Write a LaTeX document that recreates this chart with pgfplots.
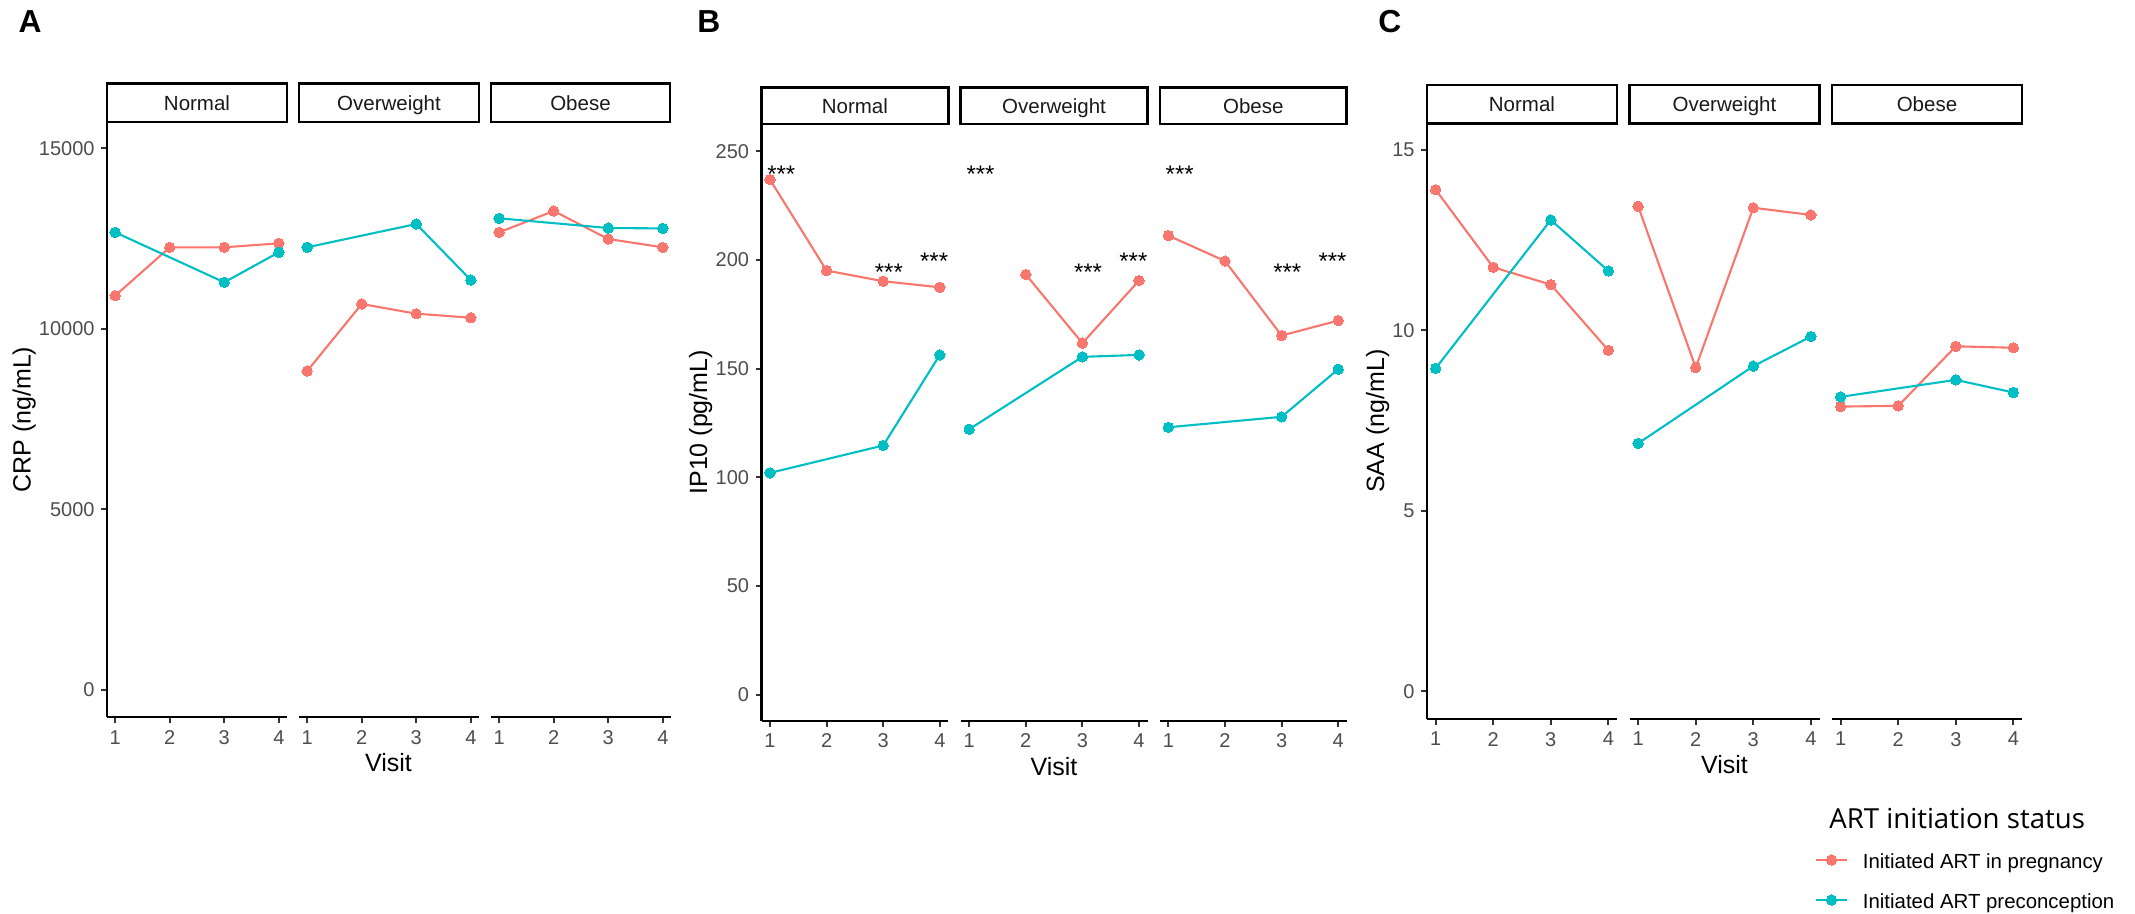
\documentclass[border=0pt]{standalone}
\usepackage{fontspec}
\setmainfont{Liberation Sans}
\newfontfamily\titlefont{Open Sans}
\usepackage{pgfplots}
\pgfplotsset{compat=1.18}
\definecolor{gred}{HTML}{F8766D}
\definecolor{gcyan}{HTML}{00BFC4}
\definecolor{tickgrey}{HTML}{4D4D4D}
\definecolor{tickmark}{HTML}{333333}
\definecolor{stripgrey}{HTML}{1A1A1A}
\newcommand\ticksize{\fontsize{10bp}{12bp}\selectfont}
\newcommand\stripfont{\fontsize{10.25bp}{12bp}\selectfont}
\newcommand\axtitle{\fontsize{12.5bp}{15bp}\selectfont}
\newcommand\legfont{\fontsize{10.2bp}{12bp}\selectfont}
\newcommand\astfont{\fontsize{12bp}{14bp}\selectfont}
\newcommand\strip[5]{%
  \draw[line width=1.35bp, black] ({#1*0.5bp},{-#3*0.5bp}) rectangle ({#2*0.5bp},{-#4*0.5bp});
  \node[anchor=base, inner sep=0pt, font=\stripfont, text=stripgrey] at ({(#1+#2)*0.25bp},{-(#3+#4)*0.25bp-3.7bp}) {#5};}
\tikzset{ast/.style={anchor=base, inner sep=0pt, font=\astfont, text=black}}
\pgfplotsset{
  facet/.style={
    scale only axis, clip=false,
    xmin=0.85, xmax=4.15,
    xtick={1,2,3,4}, xticklabels={1,2,3,4},
    scaled x ticks=false, scaled y ticks=false,
    axis x line*=bottom,
    axis line style={-, line width=1.15bp, black},
    tick align=outside,
    major tick length=3bp,
    major tick style={line width=1bp, tickmark},
    tick label style={font=\ticksize, text=tickgrey, inner sep=0pt},
    xticklabel shift=3.35bp,
    yticklabel shift=3bp,
  },
  ylead/.style={axis y line*=left},
  yoff/.style={axis y line=none},
  pr/.style={color=gred, line width=1.05bp, mark=*, mark size=2.6bp, mark options={solid, fill=gred, draw=gred, line width=0pt}},
  pc/.style={color=gcyan, line width=1.05bp, mark=*, mark size=2.6bp, mark options={solid, fill=gcyan, draw=gcyan, line width=0pt}},
  Ay/.style={ymin=-770, ymax=15729, ytick={0,5000,10000,15000}, yticklabels={0,5000,10000,15000}, width=90bp, height=297.65bp},
  By/.style={ymin=-12.05, ymax=262.56, ytick={0,50,100,150,200,250}, yticklabels={0,50,100,150,200,250}, width=93.4bp, height=298.35bp},
  Cy/.style={ymin=-0.768, ymax=15.74, ytick={0,5,10,15}, yticklabels={0,5,10,15}, width=95bp, height=297.85bp},
}
\begin{document}
\begin{tikzpicture}
\useasboundingbox (0,0) rectangle (1067.5bp,-457bp);

% ---------------- Panel A : CRP ----------------
\begin{axis}[facet, ylead, Ay, at={(53.5bp,-358.65bp)}, anchor=south west]
\addplot[pr] coordinates {(1,10915) (2,12256) (3,12256) (4,12367)};
\addplot[pc] coordinates {(1,12672) (3,11286) (4,12118)};
\end{axis}
\begin{axis}[facet, yoff, Ay, at={(149.5bp,-358.65bp)}, anchor=south west]
\addplot[pr] coordinates {(1,8828) (2,10685) (3,10416) (4,10305)};
\addplot[pc] coordinates {(1,12256) (3,12902) (4,11350)};
\end{axis}
\begin{axis}[facet, yoff, Ay, at={(245.5bp,-358.65bp)}, anchor=south west]
\addplot[pr] coordinates {(1,12672) (2,13262) (3,12486) (4,12256)};
\addplot[pc] coordinates {(1,13060) (3,12791) (4,12780)};
\end{axis}

% ---------------- Panel B : IP10 ----------------
\begin{axis}[facet, ylead, By, at={(380.75bp,-360.35bp)}, anchor=south west]
\addplot[pr] coordinates {(1,237.0) (2,195.1) (3,190.2) (4,187.4)};
\addplot[pc] coordinates {(1,102.0) (3,114.6) (4,156.3)};
\node[ast] at (axis cs:1.2,235.5) {***};
\node[ast] at (axis cs:3.1,190.7) {***};
\node[ast] at (axis cs:3.9,195.6) {***};
\end{axis}
\begin{axis}[facet, yoff, By, at={(480.35bp,-360.35bp)}, anchor=south west]
\addplot[pr] coordinates {(2,193.3) (3,161.7) (4,190.5)};
\addplot[pc] coordinates {(1,122.1) (3,155.4) (4,156.3)};
\node[ast] at (axis cs:1.2,235.5) {***};
\node[ast] at (axis cs:3.1,190.7) {***};
\node[ast] at (axis cs:3.9,195.6) {***};
\end{axis}
\begin{axis}[facet, yoff, By, at={(579.95bp,-360.35bp)}, anchor=south west]
\addplot[pr] coordinates {(1,211.2) (2,199.5) (3,165.2) (4,172.1)};
\addplot[pc] coordinates {(1,123.0) (3,127.8) (4,149.7)};
\node[ast] at (axis cs:1.2,235.5) {***};
\node[ast] at (axis cs:3.1,190.7) {***};
\node[ast] at (axis cs:3.9,195.6) {***};
\end{axis}

% ---------------- Panel C : SAA ----------------
\begin{axis}[facet, ylead, Cy, at={(713.5bp,-359.5bp)}, anchor=south west]
\addplot[pr] coordinates {(1,13.90) (2,11.75) (3,11.27) (4,9.45)};
\addplot[pc] coordinates {(1,8.95) (3,13.06) (4,11.65)};
\end{axis}
\begin{axis}[facet, yoff, Cy, at={(814.75bp,-359.5bp)}, anchor=south west]
\addplot[pr] coordinates {(1,13.44) (2,8.97) (3,13.40) (4,13.20)};
\addplot[pc] coordinates {(1,6.87) (3,9.01) (4,9.83)};
\end{axis}
\begin{axis}[facet, yoff, Cy, at={(916bp,-359.5bp)}, anchor=south west,
  legend style={at={(-0.0895,-0.2753)}, anchor=west, draw=none, fill=none, inner sep=0pt, outer sep=0pt,
    row sep=10.42bp, column sep=7.4bp, font=\legfont,
    nodes={inner sep=0pt, text height=7.44bp, text depth=2.14bp}},
  legend cell align=left,
  legend image code/.code={\draw[#1, mark repeat=2, mark phase=2] plot coordinates {(0bp,1.5bp) (7.75bp,1.5bp) (15.5bp,1.5bp)};}]
\addplot[pr] coordinates {(1,7.89) (2,7.91) (3,9.56) (4,9.52)};
\addlegendentry{Initiated ART in pregnancy}
\addplot[pc] coordinates {(1,8.16) (3,8.63) (4,8.28)};
\addlegendentry{Initiated ART preconception}
\end{axis}

% ---------------- strips ----------------
\strip{107}{287}{83.3}{122}{Normal}
\strip{299}{479}{83.3}{122}{Overweight}
\strip{491}{670}{83.3}{122}{Obese}
\strip{761.5}{948.3}{87.3}{124}{Normal}
\strip{960.7}{1147.5}{87.3}{124}{Overweight}
\strip{1159.9}{1346.7}{87.3}{124}{Obese}
\strip{1427}{1617}{85}{123.3}{Normal}
\strip{1629.5}{1819.5}{85}{123.3}{Overweight}
\strip{1832}{2022}{85}{123.3}{Obese}

% ---------------- titles ----------------
\node[rotate=90, anchor=base, inner sep=0pt, font=\axtitle] at (15.35bp,-209.8bp) {CRP (ng/mL)};
\node[rotate=90, anchor=base, inner sep=0pt, font=\axtitle] at (353.5bp,-211.18bp) {IP10 (pg/mL)};
\node[rotate=90, anchor=base, inner sep=0pt, font=\axtitle] at (692bp,-210.58bp) {SAA (ng/mL)};
\node[anchor=base, inner sep=0pt, font=\axtitle] at (194.25bp,-385.85bp) {Visit};
\node[anchor=base, inner sep=0pt, font=\axtitle] at (527bp,-387.5bp) {Visit};
\node[anchor=base, inner sep=0pt, font=\axtitle] at (862.25bp,-386.5bp) {Visit};
\node[anchor=north west, inner sep=0pt, font=\fontsize{15.9bp}{18bp}\selectfont\bfseries] at (9.15bp,-5bp) {A};
\node[anchor=north west, inner sep=0pt, font=\fontsize{15.9bp}{18bp}\selectfont\bfseries] at (348.5bp,-5bp) {B};
\node[anchor=north west, inner sep=0pt, font=\fontsize{15.9bp}{18bp}\selectfont\bfseries] at (689bp,-5bp) {C};
\node[anchor=base west, inner sep=0pt, font=\titlefont\fontsize{13.8bp}{16bp}\selectfont] at (914.5bp,-414bp) {ART initiation status};
\end{tikzpicture}
\end{document}
